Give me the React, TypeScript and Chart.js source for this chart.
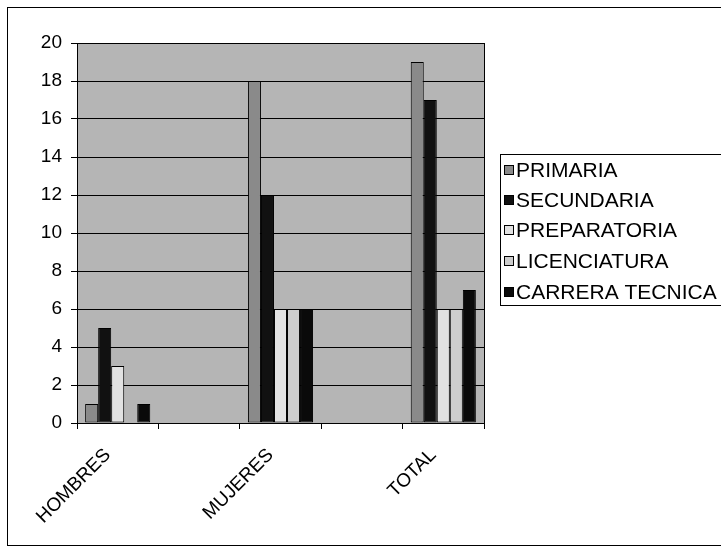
import React, { useEffect, useRef } from "react";
import { Chart, registerables } from "chart.js";

Chart.register(...registerables);

const categories = ["HOMBRES", "", "MUJERES", "", "TOTAL"];
const seriesNames = ["PRIMARIA", "SECUNDARIA", "PREPARATORIA", "LICENCIATURA", "CARRERA TECNICA"];
const primaria = [1, null, 18, null, 19];
const secundaria = [5, null, 12, null, 17];
const preparatoria = [3, null, 6, null, 6];
const licenciatura = [0, null, 6, null, 6];
const carreraTecnica = [1, null, 6, null, 7];
const yTicks = [0, 2, 4, 6, 8, 10, 12, 14, 16, 18, 20];

const seriesValues = [primaria, secundaria, preparatoria, licenciatura, carreraTecnica];
const seriesColors = ["#8a8a8a", "#111111", "#e2e2e2", "#cdcdcd", "#0a0a0a"];

const FONT = "'Liberation Sans', Arial, sans-serif";

const framePlugin = {
  id: "framePlugin",
  beforeDraw(chart: any) {
    const { ctx, chartArea } = chart;
    ctx.save();
    ctx.fillStyle = "#ffffff";
    ctx.fillRect(0, 0, chart.width, chart.height);
    ctx.fillStyle = "#b5b5b5";
    ctx.fillRect(chartArea.left, chartArea.top, chartArea.right - chartArea.left, chartArea.bottom - chartArea.top);
    ctx.restore();
  },
  afterDraw(chart: any) {
    const { ctx, chartArea } = chart;
    ctx.save();
    ctx.strokeStyle = "#000000";
    ctx.lineWidth = 1;
    ctx.strokeRect(7.5, 7.5, 740, 538);
    ctx.strokeRect(chartArea.left + 0.5, chartArea.top + 0.5, chartArea.right - chartArea.left, chartArea.bottom - chartArea.top);
    const lx = 500, ly = 154, lw = 240, lh = 151;
    ctx.fillStyle = "#ffffff";
    ctx.fillRect(lx, ly, lw, lh);
    ctx.strokeRect(lx + 0.5, ly + 0.5, lw, lh);
    ctx.font = "21px " + FONT;
    ctx.textBaseline = "middle";
    ctx.textAlign = "left";
    const rows = [170, 200, 230, 261, 292];
    chart.data.datasets.forEach((ds: any, i: number) => {
      const y = rows[i];
      ctx.fillStyle = ds.backgroundColor;
      ctx.fillRect(504, y - 5, 10, 10);
      ctx.strokeStyle = "#000";
      ctx.strokeRect(504.5, y - 4.5, 9, 9);
      ctx.fillStyle = "#000";
      ctx.fillText(ds.label, 516, y + 1);
    });
    ctx.restore();
  },
};

export default function App() {
  const ref = useRef<HTMLCanvasElement>(null);
  useEffect(() => {
    if (!ref.current) return;
    const chart = new Chart(ref.current, {
      type: "bar",
      data: {
        labels: categories,
        datasets: seriesNames.map((name, i) => ({
          label: name,
          data: seriesValues[i],
          backgroundColor: seriesColors[i],
          borderColor: "#000000",
          borderWidth: 1,
          borderSkipped: false,
          categoryPercentage: 0.8,
          barPercentage: 1.0,
        })),
      },
      options: {
        responsive: false,
        animation: false,
        devicePixelRatio: 1,
        layout: { padding: { left: 0, top: 43, right: 237, bottom: 0 } },
        plugins: { legend: { display: false }, tooltip: { enabled: false } },
        scales: {
          x: {
            grid: { drawOnChartArea: false, color: "#000", tickLength: 6, offset: true },
            border: { color: "#000", width: 1 },
            ticks: {
              color: "#000",
              font: { family: FONT, size: 19 },
              minRotation: 45,
              maxRotation: 45,
              padding: 15,
              labelOffset: -10,
              autoSkip: false,
            },
            afterFit(scale: any) {
              scale.height = 125;
            },
          },
          y: {
            min: 0,
            max: 20,
            afterBuildTicks(scale: any) {
              scale.ticks = yTicks.map((v) => ({ value: v }));
            },
            grid: { color: "#000", tickLength: 6, lineWidth: 1 },
            border: { color: "#000", width: 1 },
            ticks: {
              color: "#000",
              font: { family: FONT, size: 19 },
              padding: 9,
            },
            afterFit(scale: any) {
              scale.width = 77;
            },
          },
        },
      },
      plugins: [framePlugin],
    });
    return () => chart.destroy();
  }, []);
  return (
    <div style={{ position: "fixed", left: 0, top: 0, width: 721, height: 548, background: "#fff" }}>
      <canvas ref={ref} width={721} height={548} style={{ width: 721, height: 548, display: "block" }} />
    </div>
  );
}
